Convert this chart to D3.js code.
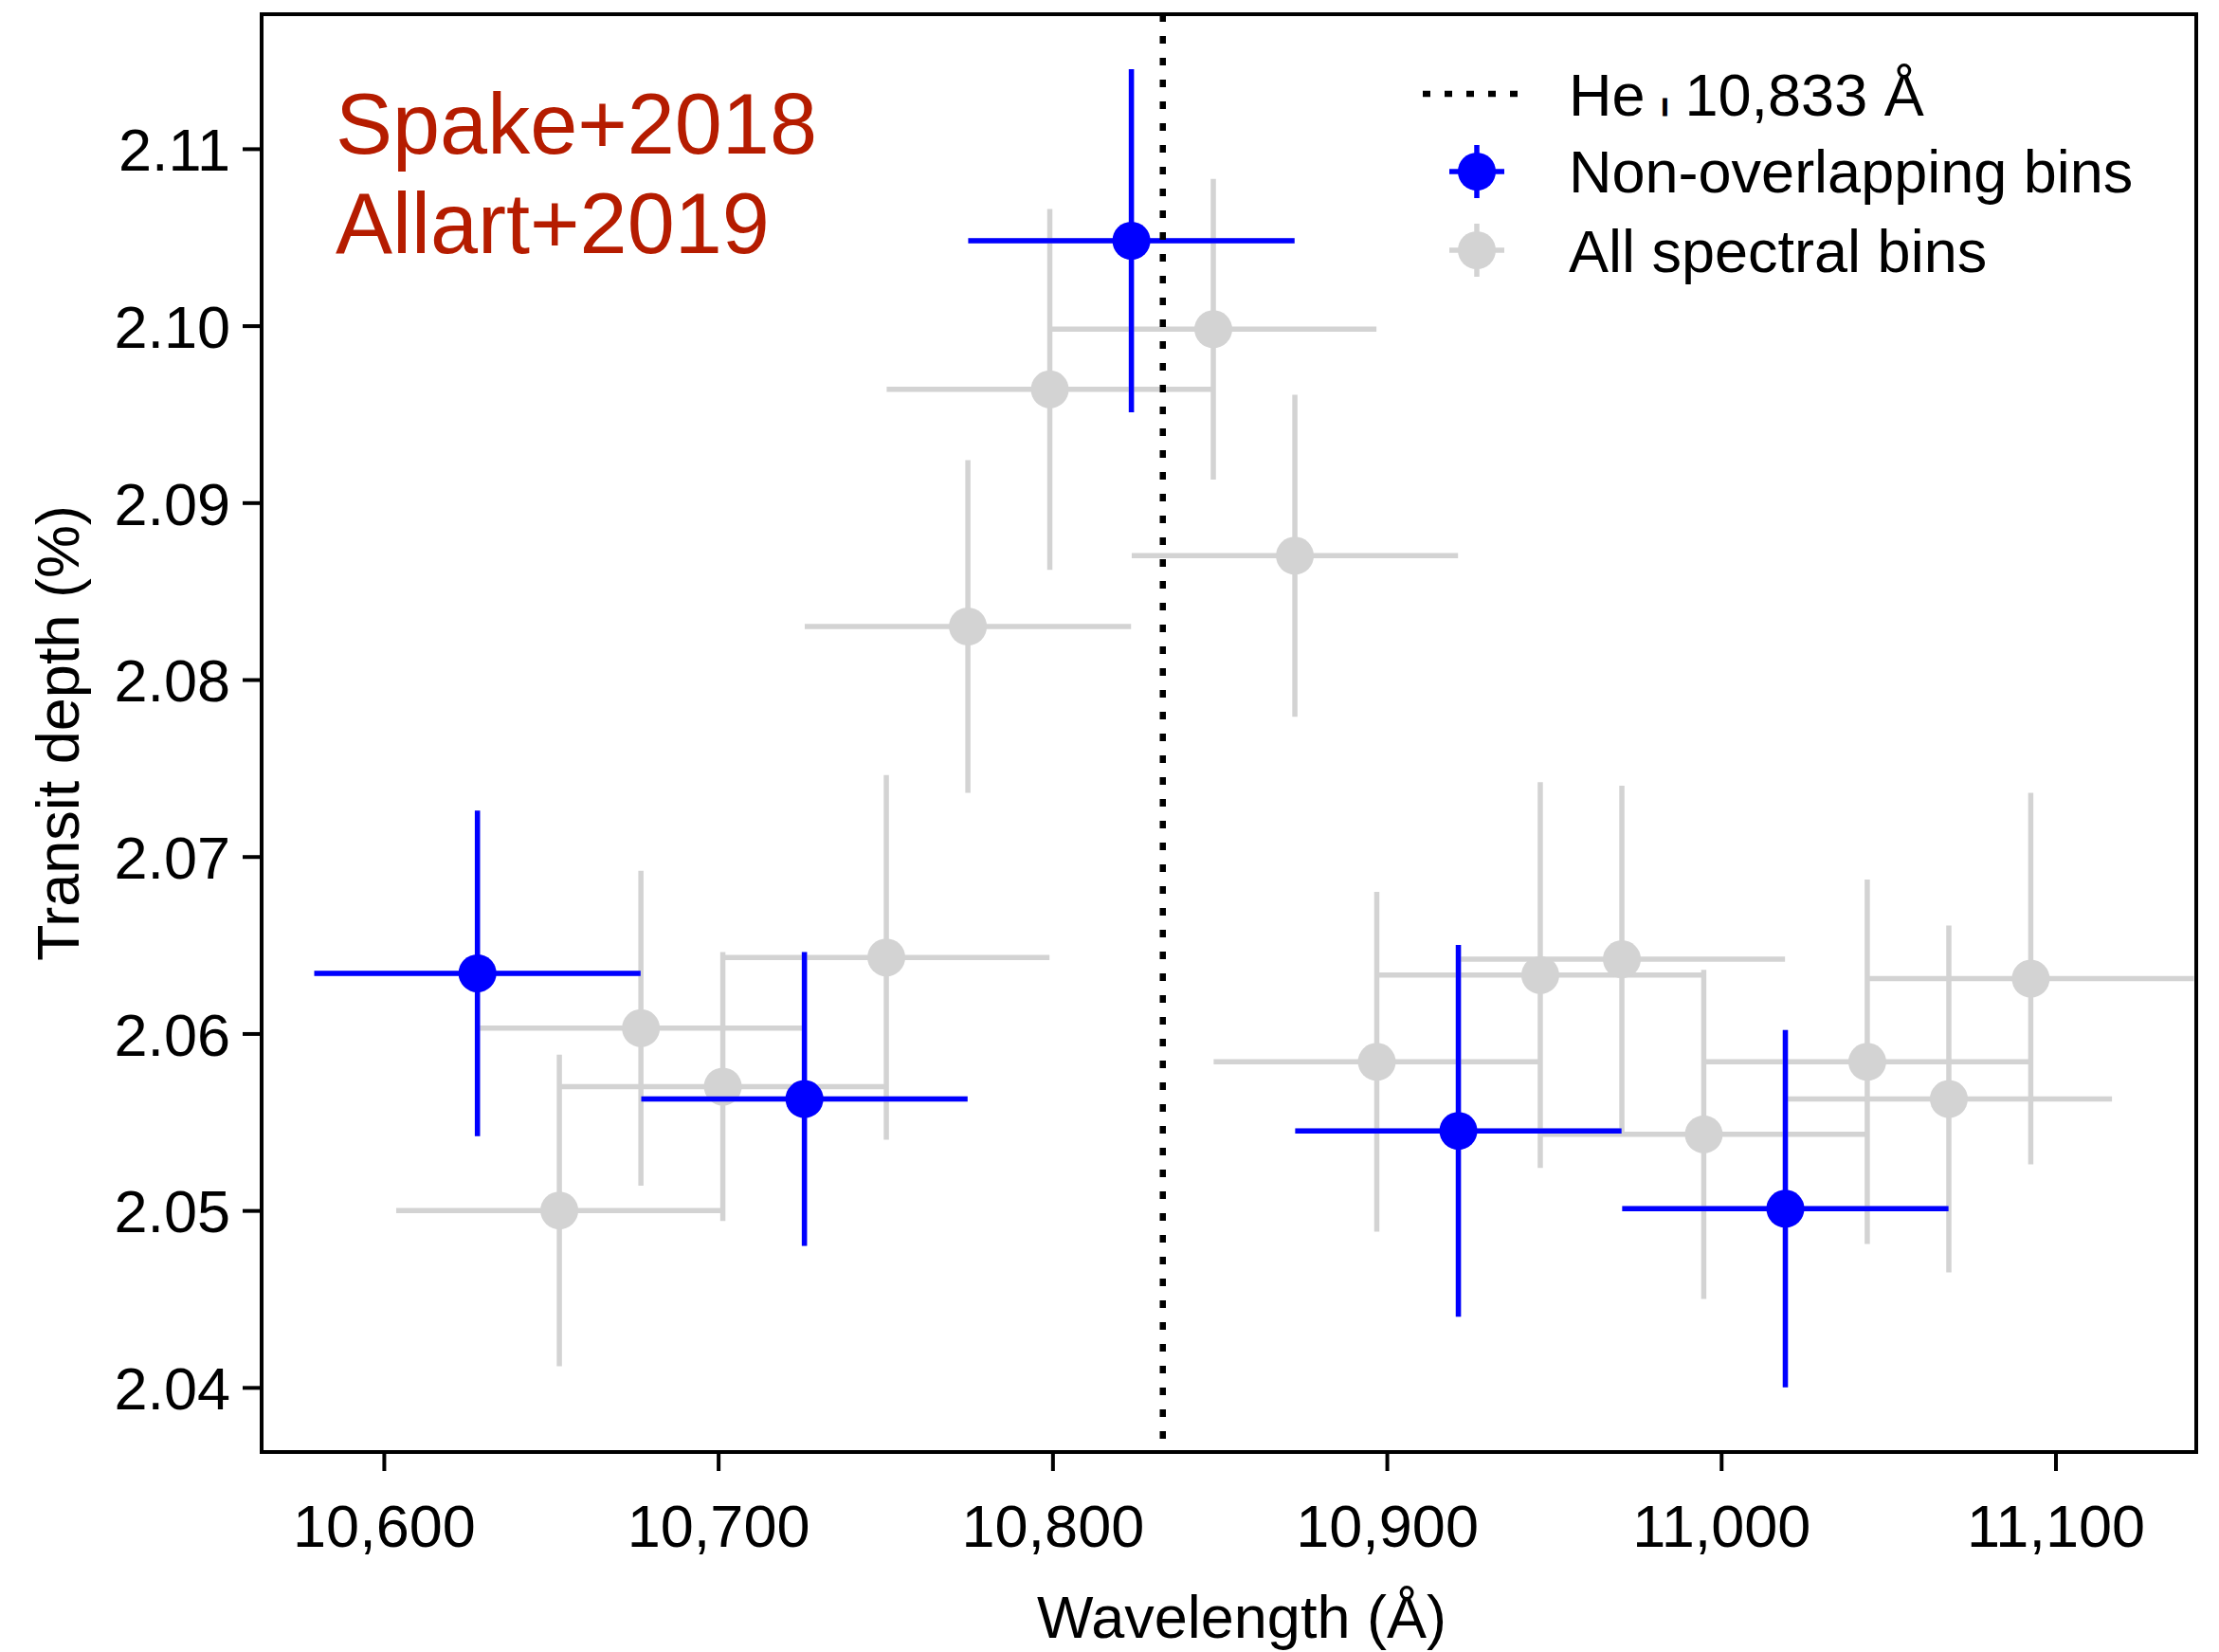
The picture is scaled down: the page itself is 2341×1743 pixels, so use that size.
<!DOCTYPE html>
<html>
<head>
<meta charset="utf-8">
<script src="https://cdn.jsdelivr.net/npm/d3@7"></script>
<style>
  html, body { margin: 0; padding: 0; background: #fff; }
  svg text { font-family: "Liberation Sans", Arial, Helvetica, sans-serif; }
</style>
</head>
<body>
<svg id="chart" width="2341" height="1743"></svg>
<script>
// Bin centres (Å), transit depths (%) and 1σ uncertainties
const allWave  = [10628.0, 10652.5, 10676.9, 10701.4, 10725.8, 10750.3, 10774.7, 10799.2, 10823.6, 10848.1,
                  10872.5, 10897.0, 10921.4, 10945.9, 10970.3, 10994.8, 11019.2, 11043.7, 11068.1, 11092.6];
const allDepth = [2.0634, 2.0500, 2.0603, 2.0570, 2.0563, 2.0643, 2.0830, 2.0964, 2.1048, 2.0998,
                  2.0870, 2.0584, 2.0545, 2.0633, 2.0642, 2.0543, 2.0501, 2.0584, 2.0563, 2.0631];
const allErr   = [0.0092, 0.0088, 0.0089, 0.0076, 0.0083, 0.0103, 0.0094, 0.0102, 0.0097, 0.0085,
                  0.0091, 0.0096, 0.0105, 0.0109, 0.0098, 0.0093, 0.0101, 0.0103, 0.0098, 0.0105];

const binWave  = [10628.0, 10725.8, 10823.6, 10921.4, 11019.2];
const binDepth = [2.0634, 2.0563, 2.1048, 2.0545, 2.0501];
const binErr   = [0.0092, 0.0083, 0.0097, 0.0105, 0.0101];

const binHalfWidth = 48.8;   // Å
const heLine = 10833;        // Å

const xTicks = [10600, 10700, 10800, 10900, 11000, 11100];
const yTicks = [2.04, 2.05, 2.06, 2.07, 2.08, 2.09, 2.10, 2.11];

const legendLabels = ["Non-overlapping bins", "All spectral bins"];
const annotation = ["Spake+2018", "Allart+2019"];

// Layout
const M = { left: 276, right: 2317, top: 15, bottom: 1532 };
const FS = 63;
const gray = "#d3d3d3", blue = "#0000ff", red = "#b51c00";

const svg = d3.select("#chart");
svg.append("rect").attr("width", 2341).attr("height", 1743).attr("fill", "#fff");

const x = d3.scaleLinear().domain([10563.45, 11142.1]).range([M.left, M.right]);
const y = d3.scaleLinear().domain([2.03635, 2.1176]).range([M.bottom, M.top]);

svg.append("defs").append("clipPath").attr("id", "plotclip")
  .append("rect").attr("x", M.left).attr("y", M.top)
  .attr("width", M.right - M.left).attr("height", M.bottom - M.top);

const plot = svg.append("g").attr("clip-path", "url(#plotclip)");

function drawSeries(g, wave, depth, err, color) {
  const data = wave.map((w, i) => ({ w, d: depth[i], e: err[i] }));
  const grp = g.append("g");
  grp.selectAll("line.h").data(data).join("line").attr("class", "h")
    .attr("x1", d => x(d.w - binHalfWidth)).attr("x2", d => x(d.w + binHalfWidth))
    .attr("y1", d => y(d.d)).attr("y2", d => y(d.d))
    .attr("stroke", color).attr("stroke-width", 5.5);
  grp.selectAll("line.v").data(data).join("line").attr("class", "v")
    .attr("x1", d => x(d.w)).attr("x2", d => x(d.w))
    .attr("y1", d => y(d.d - d.e)).attr("y2", d => y(d.d + d.e))
    .attr("stroke", color).attr("stroke-width", 5.5);
  grp.selectAll("circle").data(data).join("circle")
    .attr("cx", d => x(d.w)).attr("cy", d => y(d.d)).attr("r", 20)
    .attr("fill", color);
}

drawSeries(plot, allWave, allDepth, allErr, gray);
drawSeries(plot, binWave, binDepth, binErr, blue);

// He I 10,833 Å line
plot.append("line")
  .attr("x1", x(heLine)).attr("x2", x(heLine))
  .attr("y1", M.top).attr("y2", M.bottom)
  .attr("stroke", "#000").attr("stroke-width", 6.5)
  .attr("stroke-dasharray", "8,15");

// Axes
const xAxis = d3.axisBottom(x).tickValues(xTicks).tickFormat(d3.format(",")).tickSize(20).tickPadding(35);
const yAxis = d3.axisLeft(y).tickValues(yTicks).tickFormat(d3.format(".2f")).tickSize(20).tickPadding(13);

const gx = svg.append("g").attr("transform", `translate(0,${M.bottom})`).call(xAxis);
const gy = svg.append("g").attr("transform", `translate(${M.left},0)`).call(yAxis);
[gx, gy].forEach(g => {
  g.attr("font-family", null).attr("font-size", null);
  g.select(".domain").remove();
  g.selectAll(".tick line").attr("stroke", "#000").attr("stroke-width", 4);
  g.selectAll(".tick text").attr("font-size", FS).attr("fill", "#000");
});
gy.selectAll(".tick text").attr("dy", "0.36em");

// Frame
svg.append("rect")
  .attr("x", M.left).attr("y", M.top).attr("width", M.right - M.left).attr("height", M.bottom - M.top)
  .attr("fill", "none").attr("stroke", "#000").attr("stroke-width", 4);

// Axis labels
svg.append("text").attr("x", 1310).attr("y", 1728)
  .attr("text-anchor", "middle").attr("font-size", FS).text("Wavelength (Å)");
svg.append("text").attr("transform", `translate(83,${(M.top + M.bottom) / 2}) rotate(-90)`)
  .attr("text-anchor", "middle").attr("font-size", FS).text("Transit depth (%)");

// Annotation
svg.append("g").selectAll("text").data(annotation).join("text")
  .attr("x", 354).attr("y", (d, i) => 162 + i * 105)
  .attr("font-size", 90).attr("fill", red).text(d => d);

// Legend
const lg = svg.append("g");
const lx = 1558, tx = 1655;
const rows = [99, 181, 264];
const baselines = [122, 203, 287];
lg.append("line").attr("x1", 1501).attr("x2", 1616).attr("y1", rows[0]).attr("y2", rows[0])
  .attr("stroke", "#000").attr("stroke-width", 6.5).attr("stroke-dasharray", "8,15");
const heText = lg.append("text").attr("x", tx).attr("y", baselines[0]).attr("font-size", FS);
heText.append("tspan").text("He ");
heText.append("tspan").attr("font-size", 25).attr("font-weight", "bold")
  .attr("stroke", "#000").attr("stroke-width", 1.2).text("I");
heText.append("tspan").text(" 10,833 Å");

[[blue, rows[1]], [gray, rows[2]]].forEach(([c, cy], i) => {
  lg.append("line").attr("x1", lx - 29).attr("x2", lx + 29).attr("y1", cy).attr("y2", cy)
    .attr("stroke", c).attr("stroke-width", 5.5);
  lg.append("line").attr("x1", lx).attr("x2", lx).attr("y1", cy - 28).attr("y2", cy + 28)
    .attr("stroke", c).attr("stroke-width", 5.5);
  lg.append("circle").attr("cx", lx).attr("cy", cy).attr("r", 20).attr("fill", c);
  lg.append("text").attr("x", tx).attr("y", baselines[i + 1]).attr("font-size", FS).text(legendLabels[i]);
});
</script>
</body>
</html>
